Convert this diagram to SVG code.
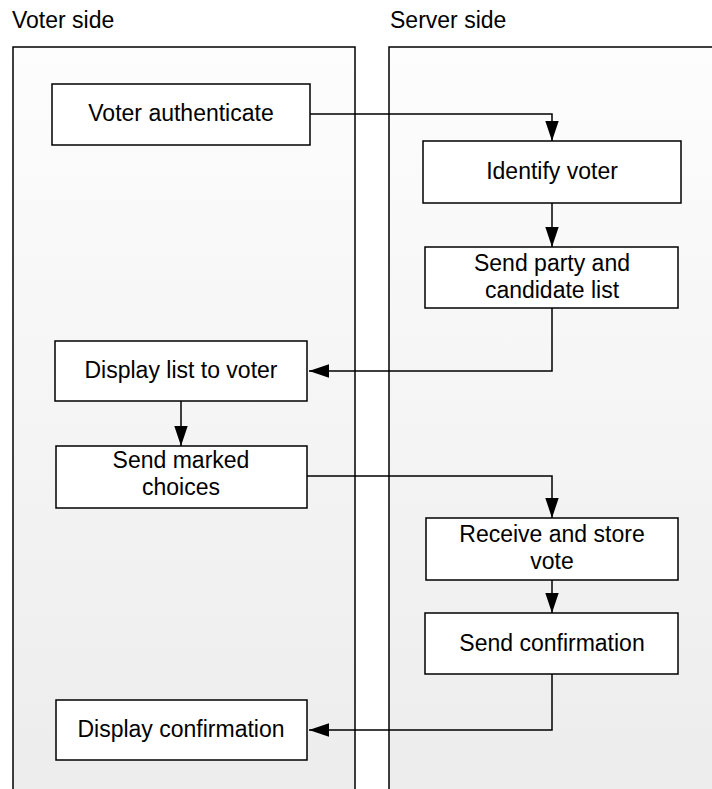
<svg xmlns="http://www.w3.org/2000/svg" width="712" height="789" viewBox="0 0 712 789">
<defs>
<linearGradient id="laneGrad" x1="0" y1="0" x2="0" y2="1">
<stop offset="0" stop-color="#fdfdfd"/>
<stop offset="1" stop-color="#ececec"/>
</linearGradient>
<marker id="arrow" markerUnits="userSpaceOnUse" markerWidth="20" markerHeight="14" refX="20" refY="7" orient="auto">
<path d="M0,0.3 L20,7 L0,13.7 Z" fill="#000"/>
</marker>
<style>
.lane{fill:url(#laneGrad);stroke:#000;stroke-width:1.5}
.box{fill:#fff;stroke:#000;stroke-width:1.5}
.t{font-family:"Liberation Sans",Arial,Helvetica,sans-serif;font-size:23px;fill:#000;text-anchor:middle}
.title{font-family:"Liberation Sans",Arial,Helvetica,sans-serif;font-size:23px;fill:#000}
.c{fill:none;stroke:#000;stroke-width:1.5;marker-end:url(#arrow)}
</style>
</defs>
<rect width="712" height="789" fill="#fff"/>
<g id="lane-voter">
<rect class="lane" x="13" y="47" width="342" height="760"/>
<text class="title" x="12" y="28">Voter side</text>
</g>
<g id="lane-server">
<rect class="lane" x="389" y="47" width="340" height="760"/>
<text class="title" x="390" y="28">Server side</text>
</g>
<g id="voter-authenticate">
<rect class="box" x="52" y="84" width="258" height="61"/>
<text class="t" x="181" y="121">Voter authenticate</text>
</g>
<g id="identify-voter">
<rect class="box" x="423" y="141" width="258" height="62"/>
<text class="t" x="552" y="179">Identify voter</text>
</g>
<g id="send-party">
<rect class="box" x="425" y="247" width="253" height="61"/>
<text class="t" x="552" y="271">Send party and</text>
<text class="t" x="552" y="298">candidate list</text>
</g>
<g id="display-list">
<rect class="box" x="55" y="341" width="252" height="60"/>
<text class="t" x="181" y="378">Display list to voter</text>
</g>
<g id="send-marked">
<rect class="box" x="56" y="446" width="251" height="62"/>
<text class="t" x="181" y="468">Send marked</text>
<text class="t" x="181" y="495">choices</text>
</g>
<g id="receive-store">
<rect class="box" x="426" y="518" width="252" height="62"/>
<text class="t" x="552" y="542">Receive and store</text>
<text class="t" x="552" y="569">vote</text>
</g>
<g id="send-confirmation">
<rect class="box" x="425" y="613" width="253" height="61"/>
<text class="t" x="552" y="651">Send confirmation</text>
</g>
<g id="display-confirmation">
<rect class="box" x="56" y="700" width="251" height="60"/>
<text class="t" x="181" y="737">Display confirmation</text>
</g>
<g id="connectors">
<path class="c" d="M310,114 H552 V141"/>
<path class="c" d="M552,203 V247"/>
<path class="c" d="M552,308 V371 H309"/>
<path class="c" d="M181,401 V446"/>
<path class="c" d="M307,476 H552 V518"/>
<path class="c" d="M552,580 V613"/>
<path class="c" d="M552,674 V730 H309"/>
</g>
</svg>
